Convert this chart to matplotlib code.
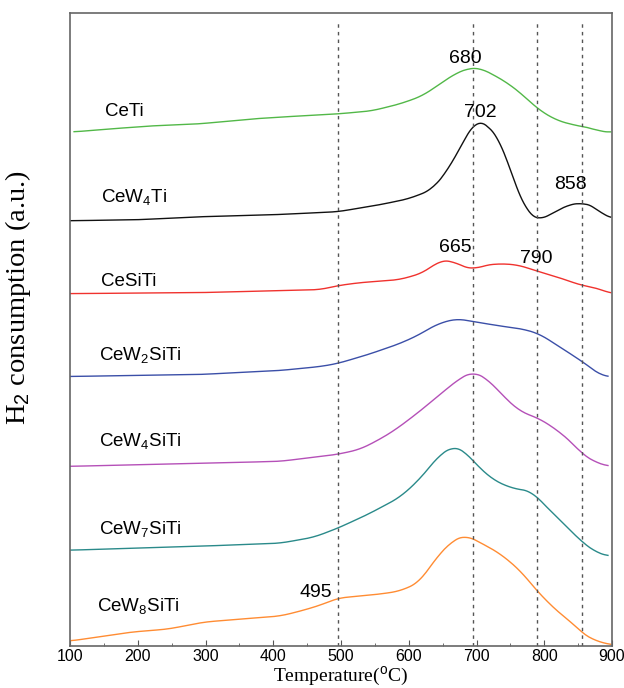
import matplotlib
matplotlib.use("Agg")
import matplotlib.pyplot as plt
from matplotlib.ticker import MultipleLocator
import numpy as np

plt.rcParams['font.family'] = ['Liberation Sans', 'DejaVu Sans']
plt.rcParams['mathtext.fontset'] = 'custom'
plt.rcParams['mathtext.rm'] = 'Liberation Sans'
plt.rcParams['mathtext.it'] = 'Liberation Sans:italic'

# curves: temperature (C) and signal (arbitrary, stacked)
T_ceti = [106, 160, 220, 290, 369, 440, 495, 545, 587, 620, 646, 670, 690, 705, 720, 746, 770, 792, 820, 856, 872, 880, 898]
y_ceti = [515, 518, 521, 523, 528, 531, 533, 536, 543, 551, 563, 574, 579, 579, 574, 564, 551, 537, 526, 520, 519, 515, 515]

T_cew4ti = [100, 200, 292, 400, 495, 557, 600, 634, 658, 682, 700, 714, 735, 758, 776, 791, 811, 835, 856, 876, 888, 898]
y_cew4ti = [426, 427, 430, 432, 435, 442, 448, 457, 477, 507, 528, 523, 507, 460, 433, 426, 433, 442, 444, 440, 430, 429]

T_cesiti = [100, 292, 470, 495, 528, 587, 622, 645, 664, 680, 695, 710, 730, 760, 792, 822, 856, 876, 898]
y_cesiti = [353, 354, 357, 361, 364, 367, 374, 386, 386, 380, 377, 381, 383, 382, 375, 369, 361, 359, 353]

T_cew2siti = [100, 292, 410, 470, 495, 540, 587, 616, 640, 670, 695, 740, 765, 792, 822, 856, 876, 885, 894]
y_cew2siti = [270, 272, 276, 280, 283, 292, 303, 312, 322, 328, 325, 320, 318, 313, 300, 285, 275, 270, 270]

T_cew4siti = [100, 292, 410, 495, 528, 557, 581, 616, 646, 675, 695, 717, 740, 764, 792, 811, 825, 842, 856, 876, 894]
y_cew4siti = [180, 183, 185, 192, 197, 207, 217, 235, 252, 268, 275, 267, 250, 235, 228, 220, 213, 203, 192, 184, 180]

T_cew7siti = [100, 292, 410, 460, 495, 540, 587, 616, 646, 666, 680, 695, 723, 752, 782, 792, 822, 856, 876, 894]
y_cew7siti = [96, 100, 103, 109, 118, 132, 149, 167, 192, 200, 197, 185, 167, 158, 155, 147, 127, 104, 94, 90]

T_cew8siti = [100, 191, 245, 298, 351, 410, 440, 470, 495, 557, 587, 616, 640, 665, 684, 699, 734, 764, 792, 822, 842, 854, 869, 898]
y_cew8siti = [5, 14, 17, 24, 27, 30, 35, 41, 48, 52, 55, 64, 88, 106, 111, 106, 93, 76, 53, 33, 23, 14, 7, 1]

names = [r'CeTi', r'CeW$_4$Ti', r'CeSiTi', r'CeW$_2$SiTi', r'CeW$_4$SiTi', r'CeW$_7$SiTi', r'CeW$_8$SiTi']
colors = ['#52b848', '#111111', '#f0322e', '#3b4fa8', '#b550b8', '#2a8a8a', '#ff8c33']
series = [(T_ceti, y_ceti), (T_cew4ti, y_cew4ti), (T_cesiti, y_cesiti), (T_cew2siti, y_cew2siti),
          (T_cew4siti, y_cew4siti), (T_cew7siti, y_cew7siti), (T_cew8siti, y_cew8siti)]
label_x = [152, 145, 145, 143, 143, 143, 140]
label_y = [535, 450, 365, 292, 205, 117, 40]

# reference temperatures (dashed lines) and peak labels
ref_T = [495, 695, 790, 855]
peak_text = ['680', '702', '858', '665', '790', '495']
peak_x = [683, 706, 838, 669, 788, 463]
peak_y = [588, 534, 462, 399, 388, 54]

fig = plt.figure(figsize=(6.24, 6.88), dpi=100)
ax = fig.add_axes([0.1122, 0.0610, 0.8686, 0.9200])

for (T, y), c in zip(series, colors):
    Ts = np.linspace(T[0], T[-1], 300)
    ys = np.interp(Ts, T, y)
    # light moving average so the read points join smoothly
    k = np.ones(11) / 11
    ys_s = np.convolve(np.pad(ys, 5, mode='edge'), k, mode='valid')
    ax.plot(Ts, ys_s, color=c, lw=1.0)

for t in ref_T:
    ax.plot([t, t], [0, 627], color='#555555', lw=1.0, ls=(0, (2.5, 3)))

for nm, lx, ly in zip(names, label_x, label_y):
    ax.text(lx, ly, nm, fontsize=13.5, ha='left', va='center')

for s, px, py in zip(peak_text, peak_x, peak_y):
    ax.text(px, py, s, fontsize=14, ha='center', va='center')

ax.set_xlim(100, 900)
ax.set_ylim(0, 634)
ax.xaxis.set_major_locator(MultipleLocator(100))
ax.xaxis.set_minor_locator(MultipleLocator(50))
ax.tick_params(axis='x', which='major', direction='in', length=4, labelsize=11.5, pad=2, color='#555555')
ax.tick_params(axis='x', which='minor', direction='in', length=2, color='#555555')
ax.set_yticks([])
for sp in ax.spines.values():
    sp.set_color('#666666')
    sp.set_linewidth(1.2)

ax.set_xlabel(r'Temperature($^{\mathrm{o}}$C)', family='Liberation Serif', fontsize=14, labelpad=0.5)
ax.set_ylabel(r'H$_2$ consumption (a.u.)', family='Liberation Serif', fontsize=20.5)
ax.yaxis.set_label_coords(-0.068, 0.55)

fig.savefig('out.png', dpi=100)
